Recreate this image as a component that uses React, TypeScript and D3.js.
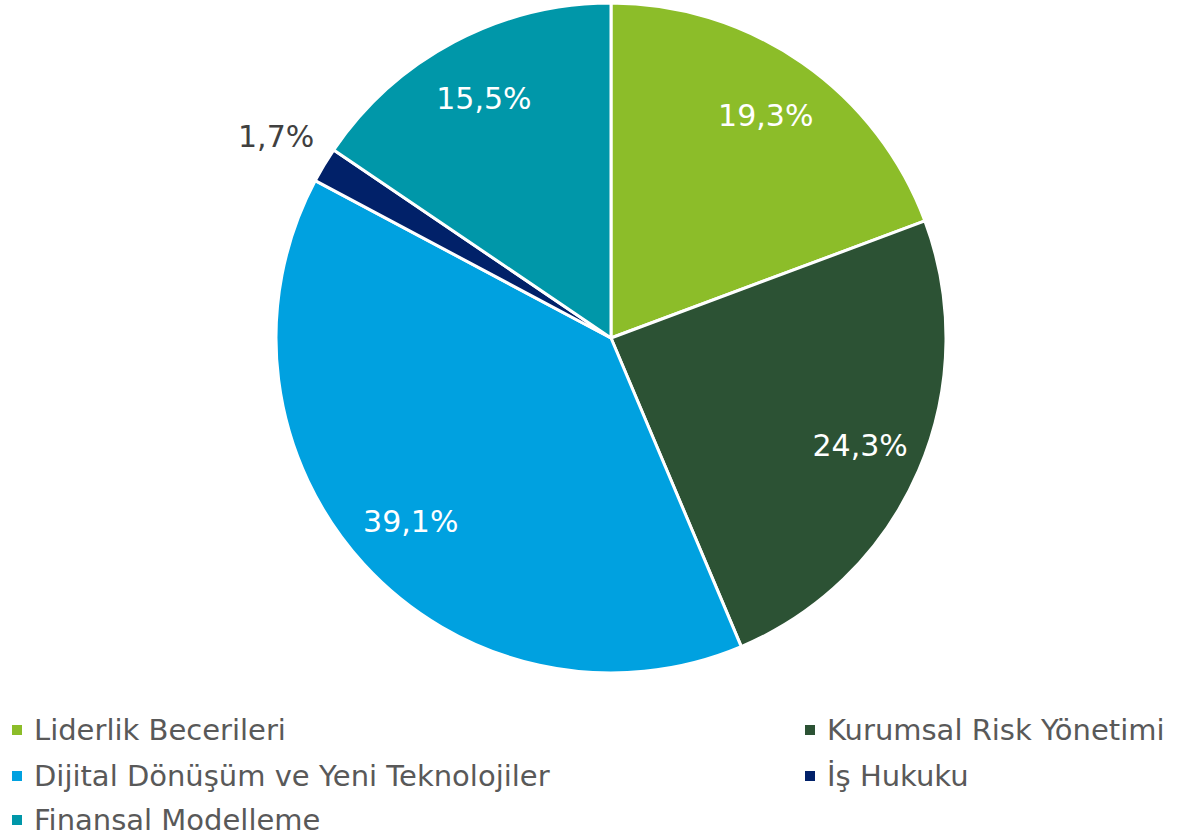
import * as d3 from "d3";

const categories = [
  "Liderlik Becerileri",
  "Kurumsal Risk Yönetimi",
  "Dijital Dönüşüm ve Yeni Teknolojiler",
  "İş Hukuku",
  "Finansal Modelleme",
];
const values = [19.3, 24.3, 39.1, 1.7, 15.5];
const labels = ["19,3%", "24,3%", "39,1%", "1,7%", "15,5%"];
const colors = ["#8cbd29", "#2c5234", "#00a1e0", "#012169", "#0097a9"];
const outside = [false, false, false, true, false];

const W = 1177;
const H = 836;
const cx = 611;
const cy = 338;
const r = 335;

const App = () => {
  const pie = d3.pie<number>().sort(null).value((d) => d)(values);
  const arc = d3.arc<d3.PieArcDatum<number>>().innerRadius(0).outerRadius(r);
  const labelArc = d3.arc<d3.PieArcDatum<number>>().innerRadius(r * 0.81).outerRadius(r * 0.81);
  const outerArc = d3.arc<d3.PieArcDatum<number>>().innerRadius(r + 56).outerRadius(r + 56);

  // legend: two columns, rows fill left to right
  const legendX = [12, 805];
  const legendY = [730, 776, 820];

  return (
    <svg
      width={W}
      height={H}
      style={{ position: "absolute", left: 0, top: 0, fontFamily: "'DejaVu Sans', Verdana, sans-serif" }}
    >
      <g transform={`translate(${cx},${cy})`}>
        {pie.map((d, i) => (
          <path key={i} d={arc(d) ?? ""} fill={colors[i]} stroke="#fff" strokeWidth={3} strokeLinejoin="round" />
        ))}
        {pie.map((d, i) => {
          const [x, y] = outside[i] ? outerArc.centroid(d) : labelArc.centroid(d);
          return (
            <text
              key={i}
              x={x}
              y={y}
              dy="0.35em"
              textAnchor="middle"
              fontSize={30}
              fill={outside[i] ? "#404040" : "#fff"}
            >
              {labels[i]}
            </text>
          );
        })}
      </g>
      {categories.map((c, i) => {
        const x = legendX[i % 2];
        const y = legendY[Math.floor(i / 2)];
        return (
          <g key={c} transform={`translate(${x},${y})`}>
            <rect x={0} y={-5} width={10} height={10} fill={colors[i]} />
            <text x={22} y={0} dy="0.35em" fontSize={29} fill="#595959">
              {c}
            </text>
          </g>
        );
      })}
    </svg>
  );
};

export default App;
